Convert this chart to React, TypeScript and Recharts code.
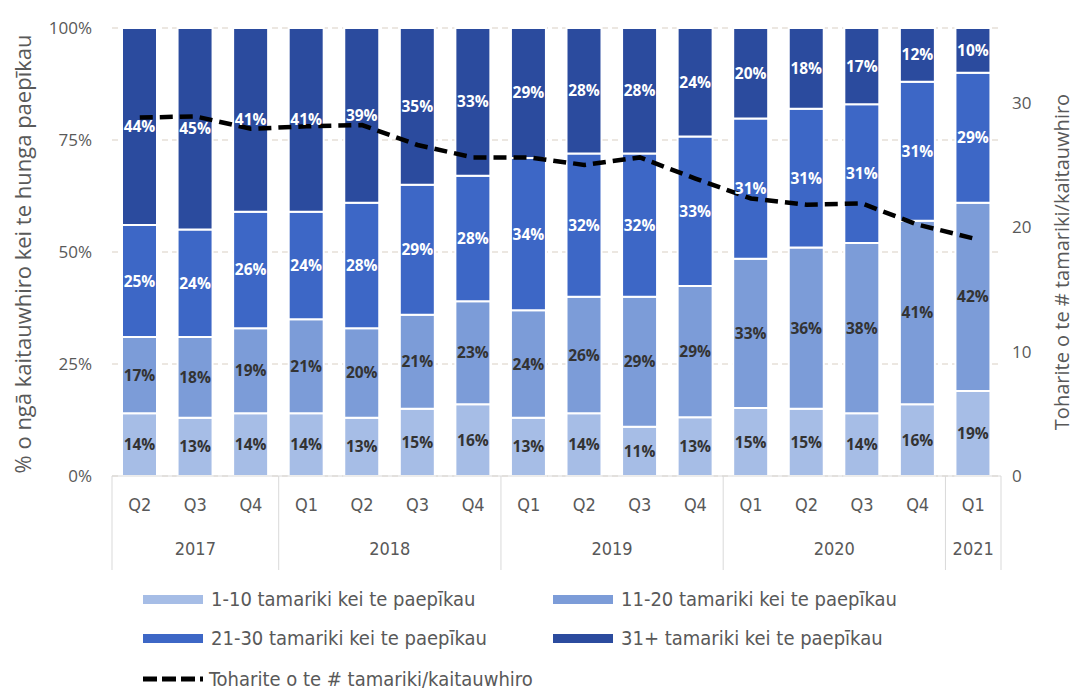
import { ComposedChart, Bar, Line, XAxis, YAxis, CartesianGrid, LabelList } from 'recharts';

const quarters = ['Q2', 'Q3', 'Q4', 'Q1', 'Q2', 'Q3', 'Q4', 'Q1', 'Q2', 'Q3', 'Q4', 'Q1', 'Q2', 'Q3', 'Q4', 'Q1'];
const years = ['2017', '2017', '2017', '2018', '2018', '2018', '2018', '2019', '2019', '2019', '2019', '2020', '2020', '2020', '2020', '2021'];

// % of kaitauwhiro by number of tamariki per paepīkau
const size1to10 = [14, 13, 14, 14, 13, 15, 16, 13, 14, 11, 13, 15, 15, 14, 16, 19];
const size11to20 = [17, 18, 19, 21, 20, 21, 23, 24, 26, 29, 29, 33, 36, 38, 41, 42];
const size21to30 = [25, 24, 26, 24, 28, 29, 28, 34, 32, 32, 33, 31, 31, 31, 31, 29];
const size31plus = [44, 45, 41, 41, 39, 35, 33, 29, 28, 28, 24, 20, 18, 17, 12, 10];

// average tamariki per kaitauwhiro (right axis)
const ratio = [28.8, 28.9, 27.9, 28.1, 28.2, 26.6, 25.6, 25.6, 25.0, 25.6, 23.9, 22.3, 21.8, 21.9, 20.2, 19.1];

const leftTicks = [0, 25, 50, 75, 100];
const rightTicks = [0, 10, 20, 30];

// rounded labels don't always add to 100, so bar heights use the share of the total
const data = quarters.map((q, i) => {
  const total = size1to10[i] + size11to20[i] + size21to30[i] + size31plus[i];
  return {
    key: `${q} ${years[i]}`,
    a: (size1to10[i] / total) * 100,
    b: (size11to20[i] / total) * 100,
    c: (size21to30[i] / total) * 100,
    d: (size31plus[i] / total) * 100,
    aLabel: size1to10[i],
    bLabel: size11to20[i],
    cLabel: size21to30[i],
    dLabel: size31plus[i],
    avg: ratio[i],
  };
});

const COLORS = {
  a: '#a6bde6',
  b: '#7c9cd8',
  c: '#3d67c6',
  d: '#2b4b9e',
};

const AXIS_FONT = "'Liberation Sans Narrow', 'DejaVu Sans Condensed', 'Roboto', sans-serif";
const LABEL_FONT = "'Open Sans', 'Noto Sans', sans-serif";
const GREY = '#595959';

const CHART_W = 1078;
const MARGIN_L = 42;
const MARGIN_R = 7;
const Y_W = 70;
const PLOT_W = CHART_W - MARGIN_L - MARGIN_R - Y_W * 2;

const CategoryTick = (props: any) => {
  const { x, y, index } = props;
  const bw = PLOT_W / data.length;
  const yr = years[index];
  const first = index === 0 || years[index - 1] !== yr;
  const last = index === years.length - 1;
  const count = years.filter((v) => v === yr).length;
  const left = x - bw / 2;
  return (
    <g>
      <text x={x} y={y + 35} textAnchor="middle" fill={GREY} fontSize={18} fontFamily={AXIS_FONT}>
        {quarters[index]}
      </text>
      {first && <line x1={left} x2={left} y1={y} y2={y + 94} stroke="#d9d9d9" />}
      {first && (
        <text x={left + (count * bw) / 2} y={y + 79} textAnchor="middle" fill={GREY} fontSize={18} fontFamily={AXIS_FONT}>
          {yr}
        </text>
      )}
      {last && <line x1={x + bw / 2} x2={x + bw / 2} y1={y} y2={y + 94} stroke="#d9d9d9" />}
    </g>
  );
};

const pct = (v: any) => `${v}%`;

const legendItems = [
  { label: '1-10 tamariki kei te paepīkau', color: COLORS.a, left: 143, top: 599 },
  { label: '11-20 tamariki kei te paepīkau', color: COLORS.b, left: 553, top: 599 },
  { label: '21-30 tamariki kei te paepīkau', color: COLORS.c, left: 143, top: 638 },
  { label: '31+ tamariki kei te paepīkau', color: COLORS.d, left: 553, top: 638 },
];

export default function App() {
  return (
    <div style={{ position: 'absolute', left: 0, top: 0, width: 1078, height: 693, background: '#fff' }}>
      <ComposedChart
        width={CHART_W}
        height={580}
        data={data}
        margin={{ top: 28, right: MARGIN_R, bottom: 9, left: MARGIN_L }}
      >
        <CartesianGrid yAxisId="left" vertical={false} stroke="#d9cfc3" strokeDasharray="6 4" />
        <XAxis
          dataKey="key"
          interval={0}
          height={95}
          tickSize={0}
          tickMargin={0}
          tickLine={false}
          axisLine={{ stroke: '#d9d9d9' }}
          tick={<CategoryTick />}
        />
        <YAxis
          yAxisId="left"
          width={Y_W}
          domain={[0, 100]}
          ticks={leftTicks}
          tickFormatter={pct}
          axisLine={false}
          tickLine={false}
          tickSize={0}
          tickMargin={20}
          tick={{ fill: GREY, fontSize: 17, fontFamily: LABEL_FONT }}
        />
        <YAxis
          yAxisId="right"
          orientation="right"
          width={Y_W}
          domain={[0, 36]}
          ticks={rightTicks}
          axisLine={false}
          tickLine={false}
          tickSize={0}
          tickMargin={11}
          tick={{ fill: GREY, fontSize: 17, fontFamily: LABEL_FONT, textAnchor: 'start' }}
        />
        <Bar yAxisId="left" dataKey="a" stackId="s" fill={COLORS.a} stroke="#fff" strokeWidth={2} barSize={35} isAnimationActive={false}>
          <LabelList dataKey="aLabel" position="center" formatter={pct} fill="#333" fontSize={15.5} fontWeight={700} fontFamily={LABEL_FONT} />
        </Bar>
        <Bar yAxisId="left" dataKey="b" stackId="s" fill={COLORS.b} stroke="#fff" strokeWidth={2} barSize={35} isAnimationActive={false}>
          <LabelList dataKey="bLabel" position="center" formatter={pct} fill="#333" fontSize={15.5} fontWeight={700} fontFamily={LABEL_FONT} />
        </Bar>
        <Bar yAxisId="left" dataKey="c" stackId="s" fill={COLORS.c} stroke="#fff" strokeWidth={2} barSize={35} isAnimationActive={false}>
          <LabelList dataKey="cLabel" position="center" formatter={pct} fill="#fff" fontSize={15.5} fontWeight={700} fontFamily={LABEL_FONT} />
        </Bar>
        <Bar yAxisId="left" dataKey="d" stackId="s" fill={COLORS.d} stroke="#fff" strokeWidth={2} barSize={35} isAnimationActive={false}>
          <LabelList dataKey="dLabel" position="center" formatter={pct} fill="#fff" fontSize={15.5} fontWeight={700} fontFamily={LABEL_FONT} />
        </Bar>
        <Line
          yAxisId="right"
          dataKey="avg"
          type="linear"
          stroke="#000"
          strokeWidth={4.5}
          strokeDasharray="13 7"
          dot={false}
          activeDot={false}
          isAnimationActive={false}
        />
      </ComposedChart>

      {/* axis titles */}
      <div
        style={{
          position: 'absolute', left: 22 - 250, top: 254 - 13, width: 500, height: 26, lineHeight: '26px',
          textAlign: 'center', transform: 'rotate(-90deg)', color: GREY, fontSize: 22, fontFamily: LABEL_FONT,
          whiteSpace: 'nowrap',
        }}
      >
        % o ngā kaitauwhiro kei te hunga paepīkau
      </div>
      <div
        style={{
          position: 'absolute', left: 1062 - 250, top: 262 - 12, width: 500, height: 24, lineHeight: '24px',
          textAlign: 'center', transform: 'rotate(-90deg)', color: GREY, fontSize: 20, fontFamily: LABEL_FONT,
          whiteSpace: 'nowrap',
        }}
      >
        Toharite o te # tamariki/kaitauwhiro
      </div>

      {/* legend */}
      {legendItems.map((it) => (
        <div key={it.label} style={{ position: 'absolute', left: it.left, top: it.top - 12, height: 24, display: 'flex', alignItems: 'center' }}>
          <div style={{ width: 60, height: 9, background: it.color, marginRight: 8 }} />
          <span style={{ color: GREY, fontSize: 20, fontFamily: AXIS_FONT, whiteSpace: 'nowrap' }}>{it.label}</span>
        </div>
      ))}
      <div style={{ position: 'absolute', left: 143, top: 679 - 12, height: 24, display: 'flex', alignItems: 'center' }}>
        <svg width={60} height={8} style={{ marginRight: 6 }}>
          <line x1={0} y1={4} x2={60} y2={4} stroke="#000" strokeWidth={5} strokeDasharray="14 5" />
        </svg>
        <span style={{ color: GREY, fontSize: 20, fontFamily: AXIS_FONT, whiteSpace: 'nowrap' }}>
          Toharite o te # tamariki/kaitauwhiro
        </span>
      </div>
    </div>
  );
}
